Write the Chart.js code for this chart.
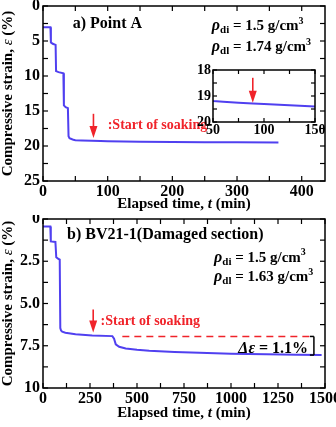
<!DOCTYPE html>
<html>
<head>
<meta charset="utf-8">
<script src="https://cdn.jsdelivr.net/npm/chart.js@4.4.0/dist/chart.umd.min.js"></script>
<style>
  body { margin: 0; background: #fff; width: 336px; height: 427px; overflow: hidden; position: relative; }
  canvas { position: absolute; }
</style>
</head>
<body>
<canvas id="chartA" width="336" height="215" style="left:0;top:0"></canvas>
<canvas id="chartB" width="336" height="212" style="left:0;top:215px"></canvas>
<canvas id="inset" width="150" height="78" style="left:192px;top:62px"></canvas>
<script>
// --- datos: a) Point A ---
const timeA   = [0, 11.5, 12.2, 15, 19.5, 20.2, 24, 31.5, 32.3, 35, 38.5, 39.5, 41, 44, 47, 50, 60, 75, 89, 100, 125, 150, 200, 250, 300, 364];
const strainA = [3.05, 3.05, 5.2, 5.4, 5.55, 9.3, 9.45, 9.6, 14.2, 14.45, 14.6, 18.6, 18.9, 19.0, 19.12, 19.19, 19.22, 19.26, 19.29, 19.31, 19.36, 19.4, 19.43, 19.46, 19.48, 19.5];

// --- datos: b) BV21-1 ---
const timeB   = [0, 39, 41.5, 66, 70.5, 80, 89, 92, 96, 102, 119, 173, 262, 369, 378, 387, 405, 440, 500, 565, 700, 832, 1000, 1188, 1350, 1482];
const strainB = [0.45, 0.45, 1.33, 1.36, 2.26, 2.34, 2.4, 6.45, 6.6, 6.67, 6.73, 6.82, 6.89, 6.93, 7.08, 7.42, 7.56, 7.66, 7.74, 7.8, 7.87, 7.92, 7.97, 8.0, 8.03, 8.05];
const dashTimeB   = [422, 1438];
const dashStrainB = [6.95, 6.95];

// --- ticks ---
const ticksAX = [0, 100, 200, 300, 400];
const ticksAY = [0, 5, 10, 15, 20, 25];
const ticksBX = [0, 250, 500, 750, 1000, 1250, 1500];
const ticksBY = [0, 2.5, 5, 7.5, 10];
const ticksInX = [50, 100, 150];
const ticksInY = [18, 19, 20];

const RED = '#f0232a';
const BLUE = '#5040f0';
const SERIF = '"Liberation Serif", "DejaVu Serif", serif';
const f = (style, size) => style + ' ' + size + 'px ' + SERIF;

// texto con partes de distinto estilo (subíndices, cursiva...)
function richText(ctx, parts, x, y, align) {
    let w = 0;
    parts.forEach(p => { ctx.font = p[1]; w += ctx.measureText(p[0]).width; });
    let cx = align === 'right' ? x - w : align === 'center' ? x - w / 2 : x;
    ctx.textAlign = 'left';
    ctx.textBaseline = 'middle';
    parts.forEach(p => {
        ctx.font = p[1];
        ctx.fillText(p[0], cx, y + (p[2] || 0));
        cx += ctx.measureText(p[0]).width;
    });
}

function rho(sub, val) {
    return [
        ['ρ', f('italic bold', 16)],
        [sub, f('bold', 11), 4],
        [' = ' + val + ' g/cm', f('bold', 15)],
        ['3', f('bold', 10), -5]
    ];
}

// marco, ticks hacia dentro, títulos y anotaciones
const decor = {
    id: 'decor',
    afterDraw(chart, args, o) {
        const { ctx, chartArea: a, scales: { x, y } } = chart;
        const line = (x1, y1, x2, y2) => { ctx.beginPath(); ctx.moveTo(x1, y1); ctx.lineTo(x2, y2); ctx.stroke(); };
        ctx.save();
        ctx.strokeStyle = '#000';
        ctx.lineWidth = 1.2;
        const tl = o.tickLen || 5;
        for (let i = 0; ; i++) {
            const v = x.min + i * o.minorX;
            if (v > x.max + 1e-9) break;
            const p = x.getPixelForValue(v);
            line(p, a.bottom, p, a.bottom - tl);
            line(p, a.top, p, a.top + tl);
        }
        for (let i = 0; ; i++) {
            const v = y.min + i * o.minorY;
            if (v > y.max + 1e-9) break;
            const p = y.getPixelForValue(v);
            line(a.left, p, a.left + tl, p);
            line(a.right, p, a.right - tl, p);
        }
        ctx.lineWidth = 1.5;
        ctx.strokeRect(a.left, a.top, a.right - a.left, a.bottom - a.top);

        ctx.fillStyle = '#000';
        if (o.titles) {
            richText(ctx, [['Elapsed time, ', f('bold', 15)], ['t', f('italic bold', 15)], [' (min)', f('bold', 15)]],
                (a.left + a.right) / 2, o.titleX, 'center');
            ctx.save();
            ctx.translate(8, (a.top + a.bottom) / 2);
            ctx.rotate(-Math.PI / 2);
            richText(ctx, [['Compressive strain, ', f('bold', 15)], ['ε', f('italic', 15)], [' (%)', f('bold', 15)]], 0, 0, 'center');
            ctx.restore();
        }

        (o.texts || []).forEach(t => {
            ctx.fillStyle = t.color || '#000';
            richText(ctx, t.parts, x.getPixelForValue(t.x), y.getPixelForValue(t.y), t.align || 'left');
        });

        (o.arrows || []).forEach(ar => {
            const px = x.getPixelForValue(ar.x);
            const p1 = y.getPixelForValue(ar.y1), p2 = y.getPixelForValue(ar.y2);
            ctx.strokeStyle = RED;
            ctx.fillStyle = RED;
            ctx.lineWidth = 1.6;
            line(px, p1, px, p2 - 8);
            ctx.beginPath();
            ctx.moveTo(px - 4, p2 - 12);
            ctx.lineTo(px + 4, p2 - 12);
            ctx.lineTo(px, p2);
            ctx.closePath();
            ctx.fill();
        });

        if (o.bracket) {
            const b = o.bracket;
            const px = x.getPixelForValue(b.x);
            const p1 = y.getPixelForValue(b.y1), p2 = y.getPixelForValue(b.y2);
            ctx.strokeStyle = '#000';
            ctx.lineWidth = 1.5;
            line(px, p1, px, p2);
            line(px - 4, p1, px, p1);
            line(px - 4, p2, px, p2);
        }
        ctx.restore();
    }
};

function makeChart(id, sets, opt) {
    return new Chart(document.getElementById(id), {
        type: 'line',
        data: { datasets: sets },
        options: {
            responsive: false,
            animation: false,
            events: [],
            layout: { padding: opt.padding },
            plugins: { legend: { display: false }, tooltip: { enabled: false }, decor: opt.decor },
            elements: { point: { radius: 0 }, line: { tension: 0 } },
            scales: {
                x: {
                    type: 'linear', min: opt.xMin, max: opt.xMax,
                    grid: { display: false, drawTicks: false }, border: { display: false },
                    afterBuildTicks: s => { s.ticks = opt.xTicks.map(v => ({ value: v })); },
                    afterFit: s => { s.height = opt.xH; s.paddingLeft = 0; s.paddingRight = 0; },
                    ticks: { color: '#000', font: { family: SERIF, size: opt.fs, weight: 'bold' }, padding: opt.xPad, maxRotation: 0, autoSkip: false, callback: v => String(v) }
                },
                y: {
                    type: 'linear', min: opt.yMin, max: opt.yMax, reverse: true,
                    grid: { display: false, drawTicks: false }, border: { display: false },
                    afterBuildTicks: s => { s.ticks = opt.yTicks.map(v => ({ value: v })); },
                    afterFit: s => { s.width = opt.yW; s.paddingTop = 0; s.paddingBottom = 0; },
                    ticks: { color: '#000', font: { family: SERIF, size: opt.fs, weight: 'bold' }, padding: opt.yPad, callback: opt.yFmt || (v => String(v)) }
                }
            }
        },
        plugins: [decor]
    });
}

const toXY = (ts, es) => ts.map((t, i) => ({ x: t, y: es[i] }));

// a) Point A
makeChart('chartA', [
    { data: toXY(timeA, strainA), borderColor: BLUE, borderWidth: 2 }
], {
    padding: { left: 0, top: 6, right: 11, bottom: 0 },
    xMin: 0, xMax: 436, yMin: 0, yMax: 25, xTicks: ticksAX, yTicks: ticksAY,
    xH: 34, yW: 43, fs: 16, xPad: 1, yPad: 3,
    decor: {
        minorX: 50, minorY: 2.5, titles: true, titleX: 204,
        texts: [
            { x: 46, y: 2.6, parts: [['a) Point A', f('bold', 16)]] },
            { x: 261, y: 2.9, parts: rho('di', '1.5') },
            { x: 261, y: 5.9, parts: rho('dl', '1.74') },
            { x: 100, y: 17.1, color: RED, parts: [[':Start of soaking', f('bold', 14)]] }
        ],
        arrows: [{ x: 78, y1: 15.4, y2: 18.85 }]
    }
});

// inserto (zoom de 50 a 150 min)
makeChart('inset', [
    { data: toXY(timeA, strainA), borderColor: BLUE, borderWidth: 2 }
], {
    padding: { left: 0, top: 8, right: 27, bottom: 0 },
    xMin: 50, xMax: 150, yMin: 18, yMax: 20, xTicks: ticksInX, yTicks: ticksInY,
    xH: 18, yW: 21, fs: 14, xPad: 0, yPad: 2,
    decor: {
        minorX: 25, minorY: 0.5, tickLen: 4,
        arrows: [{ x: 89, y1: 18.3, y2: 19.26 }]
    }
});

// b) BV21-1
makeChart('chartB', [
    { data: toXY(timeB, strainB), borderColor: BLUE, borderWidth: 2 },
    { data: toXY(dashTimeB, dashStrainB), borderColor: RED, borderWidth: 1.6, borderDash: [7, 5] }
], {
    padding: { left: 0, top: 4, right: 11, bottom: 0 },
    xMin: 0, xMax: 1500, yMin: 0, yMax: 10, xTicks: ticksBX, yTicks: ticksBY,
    xH: 39, yW: 43, fs: 16, xPad: 1, yPad: 3,
    yFmt: v => (v === 0 || v === 10) ? String(v) : v.toFixed(1),
    decor: {
        minorX: 125, minorY: 1.25, titles: true, titleX: 198,
        texts: [
            { x: 128, y: 0.95, parts: [['b) BV21-1(Damaged section)', f('bold', 16)]] },
            { x: 910, y: 2.3, parts: rho('di', '1.5') },
            { x: 910, y: 3.45, parts: rho('dl', '1.63') },
            { x: 306, y: 6.05, color: RED, parts: [[':Start of soaking', f('bold', 14)]] },
            { x: 1410, y: 7.69, align: 'right', parts: [['Δε', f('italic bold', 16)], [' = 1.1%', f('bold', 16)]] }
        ],
        arrows: [{ x: 267, y1: 5.36, y2: 6.72 }],
        bracket: { x: 1441, y1: 6.95, y2: 8.05 }
    }
});
</script>
</body>
</html>
